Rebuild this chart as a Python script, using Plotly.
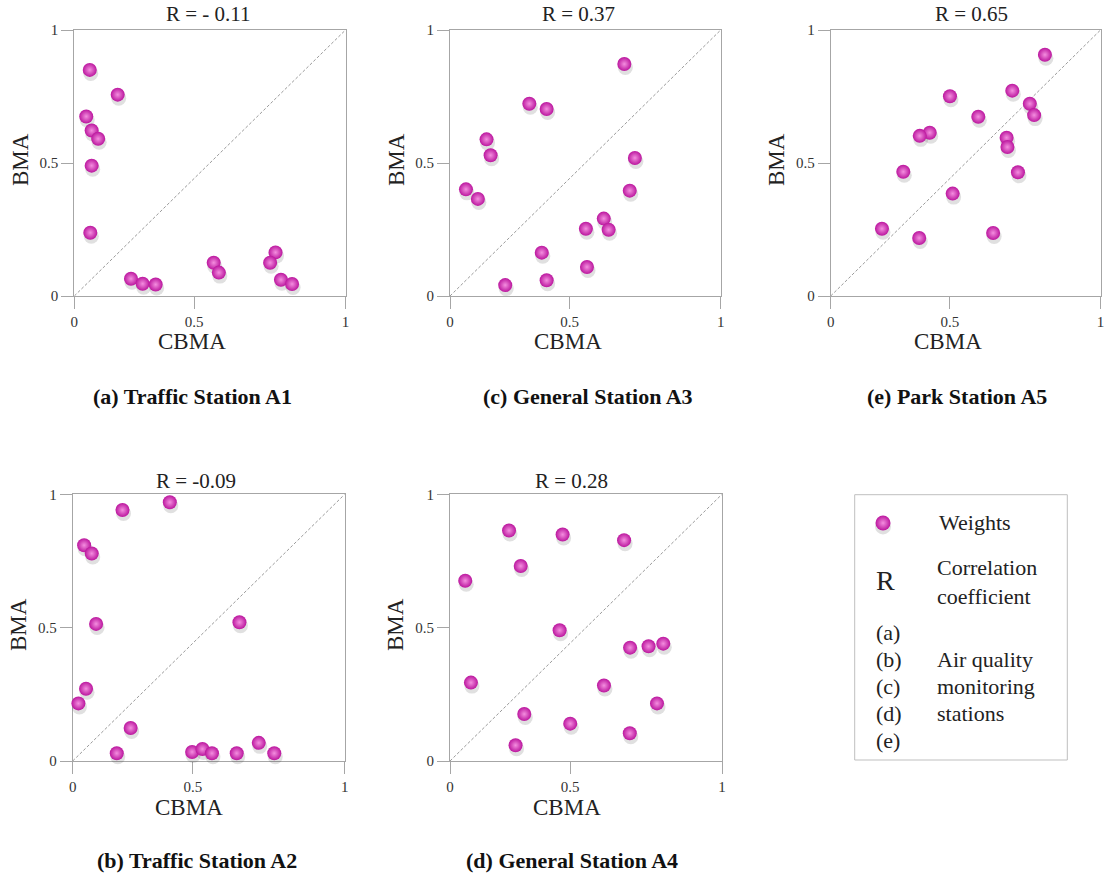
import plotly.graph_objects as go

# ---------------- data ----------------
titles = ["R = - 0.11", "R = -0.09", "R = 0.37", "R = 0.28", "R = 0.65"]
captions = ["(a) Traffic Station A1", "(b) Traffic Station A2", "(c) General Station A3",
            "(d) General Station A4", "(e) Park Station A5"]

a1_cbma = [0.057, 0.160, 0.044, 0.064, 0.088, 0.064, 0.059, 0.209, 0.252, 0.300,
           0.514, 0.533, 0.742, 0.722, 0.762, 0.803]
a1_bma = [0.850, 0.757, 0.675, 0.622, 0.591, 0.490, 0.238, 0.065, 0.046, 0.043,
          0.125, 0.088, 0.164, 0.125, 0.061, 0.045]

a2_cbma = [0.357, 0.183, 0.042, 0.070, 0.086, 0.613, 0.049, 0.021, 0.213, 0.162,
           0.439, 0.477, 0.512, 0.603, 0.684, 0.741]
a2_bma = [0.970, 0.941, 0.809, 0.778, 0.514, 0.520, 0.271, 0.216, 0.124, 0.029,
          0.034, 0.045, 0.029, 0.029, 0.068, 0.029]

a3_cbma = [0.644, 0.293, 0.357, 0.135, 0.150, 0.683, 0.059, 0.103, 0.664, 0.568,
           0.502, 0.586, 0.339, 0.506, 0.357, 0.204]
a3_bma = [0.872, 0.723, 0.703, 0.589, 0.529, 0.519, 0.401, 0.365, 0.396, 0.291,
          0.253, 0.249, 0.163, 0.109, 0.059, 0.041]

a4_cbma = [0.217, 0.414, 0.640, 0.260, 0.056, 0.403, 0.662, 0.730, 0.784, 0.077,
           0.566, 0.761, 0.273, 0.442, 0.661, 0.241]
a4_bma = [0.864, 0.849, 0.828, 0.731, 0.676, 0.490, 0.425, 0.430, 0.440, 0.294,
          0.283, 0.216, 0.176, 0.140, 0.104, 0.059]

a5_cbma = [0.794, 0.673, 0.442, 0.738, 0.754, 0.547, 0.367, 0.330, 0.652, 0.655,
           0.269, 0.694, 0.452, 0.190, 0.328, 0.602]
a5_bma = [0.907, 0.772, 0.751, 0.723, 0.680, 0.674, 0.614, 0.602, 0.595, 0.560,
          0.467, 0.465, 0.385, 0.253, 0.218, 0.237]

x_tick_labels = ["0", "0.5", "1"]
y_tick_labels = ["0", "0.5", "1"]
legend_left = ["R", "(a)", "(b)", "(c)", "(d)", "(e)"]

series = [(a1_cbma, a1_bma), (a2_cbma, a2_bma), (a3_cbma, a3_bma),
          (a4_cbma, a4_bma), (a5_cbma, a5_bma)]

# ---------------- layout geometry (pixels) ----------------
W, H = 1106, 874
boxes = [(74.3, 345.5, 30, 296),     # a
         (72.7, 344.7, 494.3, 761),  # b
         (450, 720.7, 30, 296),      # c
         (450, 722, 494.3, 761),     # d
         (830.7, 1100.5, 30, 296)]   # e
title_pos = [(208, 14), (196, 481), (578, 14), (571, 481), (971, 14)]
ytitle_pos = [(21, 160), (18, 625), (397, 160), (395, 625), (777, 160)]
xtitle_pos = [(192, 342), (189, 807), (568, 342), (567, 807), (948, 342)]
caption_pos = [(192, 397), (197, 860), (588, 396), (572, 860), (957, 396)]
SHADOW_DX, SHADOW_DY = 1.0, 3.5

def px(x):
    return x / W

def py(y):
    return 1 - y / H

SERIF = "Liberation Serif, Times New Roman, serif"
AXC = "#a6a6a6"
DOT_EDGE = "#BB169E"
DOT_CENTER = "#F48EDF"
SHADOW = "rgba(60,60,60,0.16)"

fig = go.Figure()
layout = dict(width=W, height=H, margin=dict(l=0, r=0, t=0, b=0, autoexpand=False),
              paper_bgcolor="white", plot_bgcolor="rgba(0,0,0,0)", showlegend=False,
              font=dict(family=SERIF, color="#222"))
annotations = []
shapes = []

def hidden_axis(domain, anchor):
    return dict(domain=domain, range=[0, 1], visible=False, fixedrange=True,
                anchor=anchor, automargin=False)

# frame axes 1..5, shadow axes 7..11, dot axes 12..16 (6 = legend glyph)
for i, ((xs, ys), (x0, x1, yt, yb)) in enumerate(zip(series, boxes)):
    n = i + 1
    xa = "x" if n == 1 else f"x{n}"
    ya = "y" if n == 1 else f"y{n}"
    ns, nd = n + 6, n + 11
    axcommon = dict(range=[0, 1], showgrid=False, zeroline=False, showline=True,
                    linecolor=AXC, linewidth=1, mirror=True, ticks="outside",
                    ticklen=12, tickcolor=AXC, tickwidth=1, automargin=False,
                    tickfont=dict(family=SERIF, size=15, color="#333"), fixedrange=True)
    layout["xaxis" if n == 1 else f"xaxis{n}"] = dict(
        axcommon, domain=[px(x0), px(x1)], anchor=ya,
        tickvals=[0, 0.442, 1], ticktext=x_tick_labels)
    layout["yaxis" if n == 1 else f"yaxis{n}"] = dict(
        axcommon, domain=[py(yb), py(yt)], anchor=xa,
        tickvals=[0, 0.5, 1], ticktext=y_tick_labels)
    # shadow subplot: same scales, shifted a few pixels down/right
    layout[f"xaxis{ns}"] = hidden_axis([px(x0 + SHADOW_DX), px(x1 + SHADOW_DX)], f"y{ns}")
    layout[f"yaxis{ns}"] = hidden_axis([py(yb + SHADOW_DY), py(yt + SHADOW_DY)], f"x{ns}")
    layout[f"xaxis{nd}"] = hidden_axis([px(x0), px(x1)], f"y{nd}")
    layout[f"yaxis{nd}"] = hidden_axis([py(yb), py(yt)], f"x{nd}")
    fig.add_trace(go.Scatter(x=xs, y=ys, mode="markers", xaxis=f"x{ns}", yaxis=f"y{ns}",
                             marker=dict(size=15, color=SHADOW, line=dict(width=0)),
                             hoverinfo="skip", cliponaxis=False))
    fig.add_trace(go.Scatter(x=xs, y=ys, mode="markers", xaxis=f"x{nd}", yaxis=f"y{nd}",
                             name="Weights",
                             marker=dict(size=14, color=DOT_EDGE,
                                         gradient=dict(type="radial", color=DOT_CENTER),
                                         line=dict(width=0)),
                             cliponaxis=False))
    shapes.append(dict(type="line", xref=xa, yref=ya, x0=0, y0=0, x1=1, y1=1,
                       line=dict(color="#9a9a9a", width=1, dash="3px,2px"), layer="below"))
    tx, ty = title_pos[i]
    annotations.append(dict(text=titles[i], x=px(tx), y=py(ty), xref="paper", yref="paper",
                            showarrow=False, font=dict(family=SERIF, size=21, color="#222"),
                            xanchor="center", yanchor="middle"))
    ax_, ay_ = ytitle_pos[i]
    annotations.append(dict(text="BMA", x=px(ax_), y=py(ay_), xref="paper", yref="paper",
                            showarrow=False, textangle=-90,
                            font=dict(family=SERIF, size=23, color="#222"),
                            xanchor="center", yanchor="middle"))
    bx, by = xtitle_pos[i]
    annotations.append(dict(text="CBMA", x=px(bx), y=py(by), xref="paper", yref="paper",
                            showarrow=False, font=dict(family=SERIF, size=23, color="#222"),
                            xanchor="center", yanchor="middle"))
    cx, cy = caption_pos[i]
    annotations.append(dict(text="<b>" + captions[i] + "</b>", x=px(cx), y=py(cy),
                            xref="paper", yref="paper", showarrow=False,
                            font=dict(family=SERIF, size=22, color="#111"),
                            xanchor="center", yanchor="middle"))

# ---------------- legend box ----------------
shapes.append(dict(type="rect", xref="paper", yref="paper",
                   x0=px(854.7), x1=px(1067.3), y0=py(760), y1=py(494.7),
                   line=dict(color="#bfbfbf", width=1), fillcolor="rgba(0,0,0,0)"))
layout["xaxis6"] = hidden_axis([px(870), px(896)], "y6")
layout["yaxis6"] = hidden_axis([py(536), py(510)], "x6")
fig.add_trace(go.Scatter(x=[0.5], y=[0.37], mode="markers", xaxis="x6", yaxis="y6",
                         marker=dict(size=16, color=SHADOW), hoverinfo="skip",
                         cliponaxis=False))
fig.add_trace(go.Scatter(x=[0.5], y=[0.5], mode="markers", xaxis="x6", yaxis="y6",
                         marker=dict(size=15, color=DOT_EDGE,
                                     gradient=dict(type="radial", color=DOT_CENTER),
                                     line=dict(width=0)), hoverinfo="skip", cliponaxis=False))

LF = dict(family=SERIF, size=22, color="#222")
annotations.append(dict(text="Weights", x=px(937), y=py(522), xref="paper", yref="paper",
                        showarrow=False, font=LF, xanchor="left", yanchor="middle"))
annotations.append(dict(text=legend_left[0], x=px(874), y=py(580), xref="paper", yref="paper",
                        showarrow=False, font=dict(family=SERIF, size=28, color="#222"),
                        xanchor="left", yanchor="middle"))
annotations.append(dict(text="Correlation<br>coefficient", x=px(935), y=py(582),
                        xref="paper", yref="paper", showarrow=False, font=LF,
                        xanchor="left", yanchor="middle", align="left"))
for k, lab in enumerate(legend_left[1:]):
    annotations.append(dict(text=lab, x=px(874), y=py(632 + 27 * k), xref="paper", yref="paper",
                            showarrow=False, font=LF, xanchor="left", yanchor="middle"))
for k, lab in enumerate(["Air quality", "monitoring", "stations"]):
    annotations.append(dict(text=lab, x=px(935), y=py(659 + 27 * k), xref="paper", yref="paper",
                            showarrow=False, font=LF, xanchor="left", yanchor="middle"))

layout["annotations"] = annotations
layout["shapes"] = shapes
fig.update_layout(**layout)
fig.write_html("out.html", config={"displayModeBar": False},
               post_script="document.body.style.margin='0';document.body.style.overflow='hidden';")
